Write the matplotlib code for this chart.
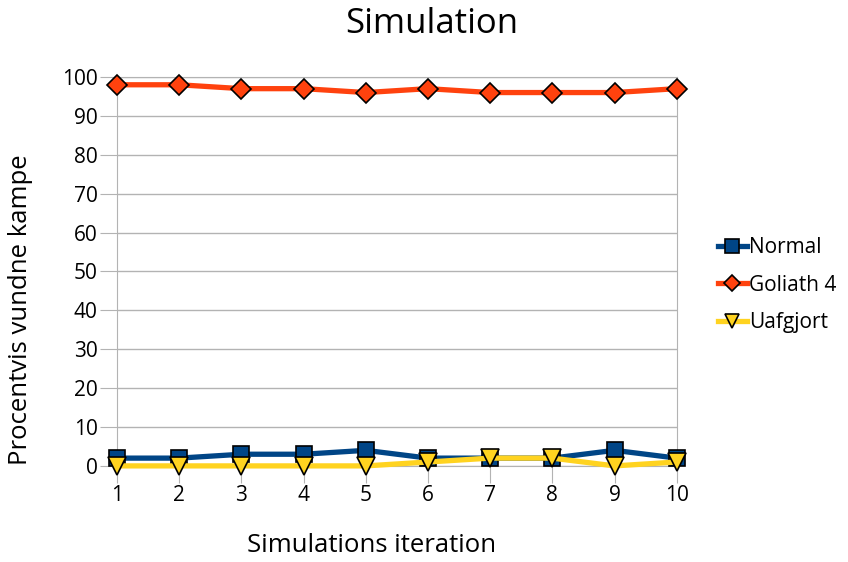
import matplotlib.pyplot as plt

plt.rcParams['font.family'] = ['Open Sans', 'DejaVu Sans']

iterations = [1, 2, 3, 4, 5, 6, 7, 8, 9, 10]
normal = [2, 2, 3, 3, 4, 2, 2, 2, 4, 2]
goliath = [98, 98, 97, 97, 96, 97, 96, 96, 96, 97]
uafgjort = [0, 0, 0, 0, 0, 1, 2, 2, 0, 1]
yticks = list(range(0, 101, 10))

W, H = 848, 562
fig = plt.figure(figsize=(W / 100, H / 100), dpi=100)
ax = fig.add_axes([0.138, 0.171, 0.660, 0.692])

ax.plot(iterations, normal, color='#004586', lw=3.8, marker='s', ms=12,
        mec='black', mew=1.2, label='Normal', zorder=3, clip_on=False)
ax.plot(iterations, goliath, color='#ff420e', lw=3.8, marker='D', ms=10,
        mec='black', mew=1.2, label='Goliath 4', zorder=3, clip_on=False)
ax.plot(iterations, uafgjort, color='#ffd320', lw=3.8, marker='v', ms=13,
        mec='black', mew=1.2, label='Uafgjort', zorder=4, clip_on=False)

ax.set_xlim(1, 10)
ax.set_ylim(0, 100)
ax.set_xticks(iterations)
ax.set_yticks(yticks)
ax.grid(axis='y', color='#b3b3b3', lw=1)
for s in ax.spines.values():
    s.set_color('#b3b3b3')
ax.tick_params(axis='both', length=12, color='#b3b3b3', labelsize=15, pad=2)

# title and axis titles placed in figure pixels
fig.text(432 / W, 1 - 24 / H, 'Simulation', fontsize=25, ha='center', va='center')
fig.text(372 / W, 1 - 545 / H, 'Simulations iteration', fontsize=18.5,
         ha='center', va='center')
fig.text(21 / W, 1 - 310 / H, 'Procentvis vundne kampe', fontsize=18.5,
         rotation=90, ha='center', va='center')

ax.legend(loc='center left', bbox_to_anchor=(1.04, 0.465), frameon=False,
          fontsize=15, handlelength=1.4, handletextpad=0.1, labelspacing=0.8,
          markerscale=0.8)

fig.savefig('out.png', dpi=100)
